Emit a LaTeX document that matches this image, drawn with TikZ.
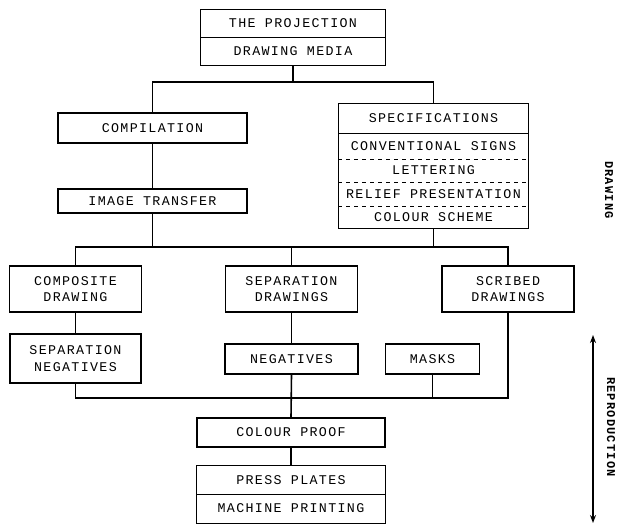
\documentclass[tikz,border=0pt]{standalone}
\usepackage{fontspec}
\setmonofont{Liberation Mono}[LetterSpace=10]
\usetikzlibrary{arrows.meta}

\tikzset{
  box/.style={draw, line width=0.9pt, inner sep=0pt, align=center,
    font=\ttfamily\fontsize{10}{12.5}\selectfont},
  row/.style={box, draw=none},
  link/.style={line width=1.2pt},
  sidelabel/.style={inner sep=0pt, rotate=-90, font=\ttfamily\bfseries\fontsize{9}{10}\selectfont},
}

\begin{document}
\begin{tikzpicture}[x=0.75pt,y=0.75pt,yscale=-1,xscale=1]
  \useasboundingbox (0,0) rectangle (623,525);

  % top stack
  \node[row, minimum width=138pt, minimum height=20.25pt] (proj) at (293,23.5) {THE PROJECTION};
  \node[row, minimum width=138pt, minimum height=21pt] (media) at (293,51) {DRAWING MEDIA};
  \draw[line width=0.9pt] (proj.north west) rectangle (media.south east);
  \draw[line width=0.9pt] (proj.south west) -- (proj.south east);

  % left column
  \node[box, minimum width=141.75pt, minimum height=22.5pt] (comp) at (152.5,128) {COMPILATION};
  \node[box, minimum width=141.75pt, minimum height=18pt] (imgt) at (152.5,201) {IMAGE TRANSFER};

  % specifications stack
  \node[row, minimum width=141.75pt, minimum height=21.75pt] (spec) at (433.5,118.5) {SPECIFICATIONS};
  \node[row, minimum width=141.75pt, minimum height=19.5pt] (conv) at (433.5,146) {CONVENTIONAL SIGNS};
  \node[row, minimum width=141.75pt, minimum height=17.25pt] (lett) at (433.5,170.5) {LETTERING};
  \node[row, minimum width=141.75pt, minimum height=18pt] (relief) at (433.5,194) {RELIEF PRESENTATION};
  \node[row, minimum width=141.75pt, minimum height=16.5pt] (colour) at (433.5,217) {COLOUR SCHEME};
  \draw[line width=0.9pt] (spec.north west) rectangle (colour.south east);
  \draw[line width=0.9pt] (spec.south west) -- (spec.south east);
  \draw[line width=0.6pt, dashed] (conv.south west) -- (conv.south east);
  \draw[line width=0.6pt, dashed] (lett.south west) -- (lett.south east);
  \draw[line width=0.6pt, dashed] (relief.south west) -- (relief.south east);

  % drawings
  \node[box, minimum width=99pt, minimum height=34.5pt] (compd) at (75.5,289) {COMPOSITE\\DRAWING};
  \node[box, minimum width=99pt, minimum height=34.5pt] (sepd) at (291.5,289) {SEPARATION\\DRAWINGS};
  \node[box, minimum width=99pt, minimum height=34.5pt] (scrd) at (508,289) {SCRIBED\\DRAWINGS};

  % negatives
  \node[box, minimum width=98.25pt, minimum height=36.75pt] (sepn) at (75.5,358.5) {SEPARATION\\NEGATIVES};
  \node[box, minimum width=99.75pt, minimum height=22.5pt] (negs) at (291.5,359) {NEGATIVES};
  \node[box, minimum width=70.5pt, minimum height=22.5pt] (mask) at (432.5,359) {MASKS};

  % bottom stack
  \node[box, minimum width=141pt, minimum height=21.75pt] (proof) at (291,432.5) {COLOUR PROOF};
  \node[row, minimum width=141pt, minimum height=21pt] (press) at (291,480) {PRESS PLATES};
  \node[row, minimum width=141pt, minimum height=21.75pt] (machine) at (291,508.5) {MACHINE PRINTING};
  \draw[line width=0.9pt] (press.north west) rectangle (machine.south east);
  \draw[line width=0.9pt] (press.south west) -- (press.south east);

  % connectors
  \coordinate (j1) at (0,82);
  \coordinate (j2) at (0,247);
  \coordinate (j3) at (0,398);
  \draw[link] (media.south) -- (media.south |- j1);
  \draw[link] (comp.north) -- (comp.north |- j1) -- (spec.north |- j1) -- (spec.north);
  \draw[link] (comp) -- (imgt);
  \draw[link] (imgt.south) -- (imgt.south |- j2);
  \draw[link] (colour.south) -- (colour.south |- j2);
  \draw[link] (compd.north) -- (compd.north |- j2) -- (scrd.north |- j2) -- (scrd.north);
  \draw[link] (sepd.north) -- (sepd.north |- j2);
  \draw[link] (compd) -- (sepn);
  \draw[link] (sepd) -- (negs);
  \draw[link] (sepn.south) -- (sepn.south |- j3) -- (scrd.south |- j3) -- (scrd.south);
  \draw[link] (mask.south) -- (mask.south |- j3);
  \draw[link] (negs.south) -- (proof.north);
  \draw[link] (proof) -- (press);

  % side labels
  \coordinate (rtop) at (593,335);
  \coordinate (rbot) at (593,523);
  \draw[link, {Stealth[length=6pt]}-{Stealth[length=6pt]}] (rtop) -- (rbot);
  \node[sidelabel] (drawlab) at (609,190) {DRAWING};
  \node[sidelabel] (reprolab) at (611,427) {REPRODUCTION};
\end{tikzpicture}
\end{document}
